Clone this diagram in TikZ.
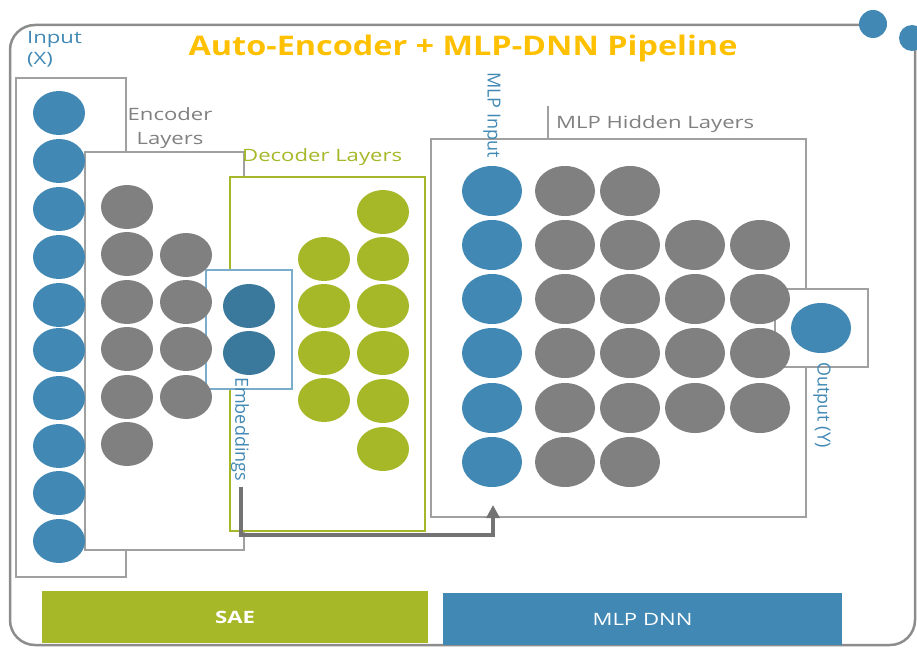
\documentclass[tikz,border=0pt]{standalone}
\usepackage{fontspec}
\setmainfont{Open Sans}
\newfontfamily\widefont{Open Sans}[FakeStretch=1.3]
\newfontfamily\titlefont{Open Sans}[FakeStretch=1.2]
\usetikzlibrary{shapes.geometric,arrows.meta}
\definecolor{nblue}{HTML}{4189B4}
\definecolor{dblue}{HTML}{3A789C}
\definecolor{ngray}{HTML}{808080}
\definecolor{ngreen}{HTML}{A6B728}
\definecolor{title}{HTML}{FFC000}
\definecolor{frame}{HTML}{8C8C8C}
\definecolor{boxgray}{HTML}{A0A0A0}
\tikzset{
  neuron/.style={ellipse, minimum width=52pt, minimum height=44pt, inner sep=0pt, draw=none},
  bigneuron/.style={ellipse, minimum width=60pt, minimum height=50pt, inner sep=0pt, draw=none},
  layerbox/.style={draw=boxgray, line width=1.2pt, fill=white},
  lbl/.style={font=\widefont\fontsize{17}{22}\selectfont, inner sep=0pt},
  vlbl/.style={font=\fontsize{18}{22}\selectfont, inner sep=0pt, rotate=-90, anchor=west},
  bar/.style={inner sep=0pt, text=white},
}
\begin{document}
\begin{tikzpicture}[x=1pt,y=-1pt]
\useasboundingbox (0,0) rectangle (917,647);
% outer frame
\draw[frame, line width=2.5pt, rounded corners=25pt] (860,25) -- (10,25) -- (10,645) -- (915,645) -- (915,50);
\fill[nblue] (873,24) circle (14);
\fill[nblue] (912,38) circle (13);
% title
\node[font=\titlefont\bfseries\fontsize{27}{30}\selectfont, text=title, inner sep=0pt] (title) at (463,48) {Auto-Encoder + MLP-DNN Pipeline};
% input label
\node[lbl, font=\widefont\fontsize{17}{21}\selectfont, text=nblue, align=left, anchor=north west] (inlbl) at (27,31) {Input\\(X)};
% boxes
\draw[layerbox] (16,78) rectangle (126,577);
\draw[layerbox] (85,152) rectangle (244,550);
\draw[draw=ngreen, line width=1.2pt, fill=white] (230,177) rectangle (425,531);
\draw[draw=nblue!70, line width=1.2pt, fill=white] (206,270) rectangle (292,389);
\draw[layerbox] (431,139) rectangle (806,517);
\draw[layerbox] (548,106) -- (548,139);
\draw[layerbox] (775,289) rectangle (868,367);
% labels
\node[lbl, font=\widefont\fontsize{17}{24}\selectfont, text=ngray, align=center] (enclbl) at (170,128) {Encoder\\Layers};
\node[lbl, text=ngreen, anchor=west] (declbl) at (242,157) {Decoder Layers};
\node[lbl, text=ngray, anchor=west] (mlplbl) at (556,124) {MLP Hidden Layers};
\node[vlbl, text=nblue] (mlpinlbl) at (492,72) {MLP Input};
\node[vlbl, text=nblue] (emblbl) at (240,377) {Embeddings};
\node[vlbl, text=nblue] (outlbl) at (822,362) {Output (Y)};
% input neurons
\foreach \y [count=\i] in {113,161,209,257,305,350,398,446,493,541}
  \node[neuron, fill=nblue] (in\i) at (59,\y) {};
% encoder
\foreach \y [count=\i] in {207,254,302,349,397,444}
  \node[neuron, fill=ngray] (ea\i) at (127,\y) {};
\foreach \y [count=\i] in {255,302,349,397}
  \node[neuron, fill=ngray] (eb\i) at (186,\y) {};
% embeddings
\foreach \y [count=\i] in {306,353}
  \node[neuron, fill=dblue] (emb\i) at (249,\y) {};
% decoder
\foreach \y [count=\i] in {259,306,353,400}
  \node[neuron, fill=ngreen] (da\i) at (324,\y) {};
\foreach \y [count=\i] in {212,259,306,353,401,449}
  \node[neuron, fill=ngreen] (db\i) at (383,\y) {};
% MLP
\foreach \y [count=\i] in {191,245,299,353,408,462} {
  \node[bigneuron, fill=nblue] (mi\i) at (492,\y) {};
  \node[bigneuron, fill=ngray] (ha\i) at (565,\y) {};
  \node[bigneuron, fill=ngray] (hb\i) at (630,\y) {};
}
\foreach \y [count=\i] in {245,299,353,408} {
  \node[bigneuron, fill=ngray] (hc\i) at (695,\y) {};
  \node[bigneuron, fill=ngray] (hd\i) at (760,\y) {};
}
\node[bigneuron, fill=nblue] (out) at (821,328) {};
% arrow
\coordinate (astart) at (241,487);
\coordinate (aend) at (493,505);
\draw[draw=ngray!90!black, line width=4pt, -{Triangle[length=13pt,width=13pt]}] (astart) -- (241,535) -| (aend);
% bars
\node[bar, fill=ngreen, minimum width=386pt, minimum height=52pt, font=\widefont\bfseries\fontsize{17}{20}\selectfont] (sae) at (235,617) {SAE};
\node[bar, fill=nblue, minimum width=399pt, minimum height=52pt, font=\widefont\fontsize{17}{20}\selectfont] (mlpdnn) at (642.5,619) {MLP DNN};
\end{tikzpicture}
\end{document}
